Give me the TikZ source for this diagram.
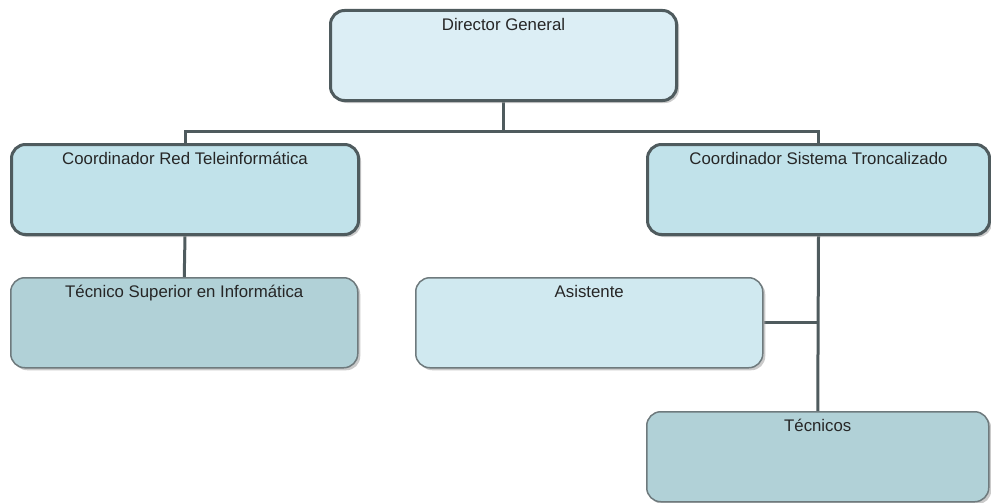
\documentclass[tikz,border=0pt]{standalone}
\usepackage{fontspec}
\setmainfont{Liberation Sans}
\usetikzlibrary{shadows,calc,backgrounds}
\definecolor{edgedark}{HTML}{4F5B5E}
\definecolor{edgethin}{HTML}{6E7A7D}
\definecolor{fillA}{HTML}{DCEEF5}
\definecolor{fillB}{HTML}{C1E2EA}
\definecolor{fillC}{HTML}{B1D1D7}
\definecolor{fillD}{HTML}{D0E9F0}
\tikzset{
  box/.style={rectangle, rounded corners=14pt, inner sep=0pt, anchor=north west,
    text height=20pt, text depth=70pt, minimum height=90pt, align=center,
    font=\fontsize{16.8}{19}\selectfont, text=black!85,
    drop shadow={shadow xshift=2.5pt, shadow yshift=-2.5pt, fill=black!35, opacity=0.6}},
  heavy/.style={box, draw=edgedark, line width=3pt},
  light/.style={box, draw=edgethin, line width=1.5pt},
  wire/.style={draw=edgedark, line width=3pt}
}
\begin{document}
\begin{tikzpicture}[x=1pt,y=-1pt]
\useasboundingbox (0,0) rectangle (991,503);
% boxes
\node[heavy, fill=fillA, minimum width=346pt] (dir) at (329,9) {Director General};
\node[heavy, fill=fillB, minimum width=347pt] (cred) at (10,143) {Coordinador Red Teleinformática};
\node[heavy, fill=fillB, minimum width=342pt] (csis) at (646,143) {Coordinador Sistema Troncalizado};
\node[light, fill=fillC, minimum width=347pt] (tsup) at (10,277) {Técnico Superior en Informática};
\node[light, fill=fillD, minimum width=347pt] (asis) at (415,277) {Asistente};
\node[light, fill=fillC, minimum width=342pt] (tec) at (646,411) {Técnicos};
% connectors
\coordinate (busM) at ($(dir.south)+(0,29)$);
\coordinate (busL) at (cred.north |- busM);
\coordinate (busR) at (csis.north |- busM);
\coordinate (asj) at (csis.south |- asis.east);
\begin{scope}[on background layer]
\draw[wire] (dir.south) -- (busM);
\draw[wire] (cred.north) -- (busL) -- (busR) -- (csis.north);
\draw[wire] (cred.south) -- (tsup.north);
\draw[wire] (csis.south) -- (tec.north);
\draw[wire] (asis.east) -- (asj);
\end{scope}
\end{tikzpicture}
\end{document}
